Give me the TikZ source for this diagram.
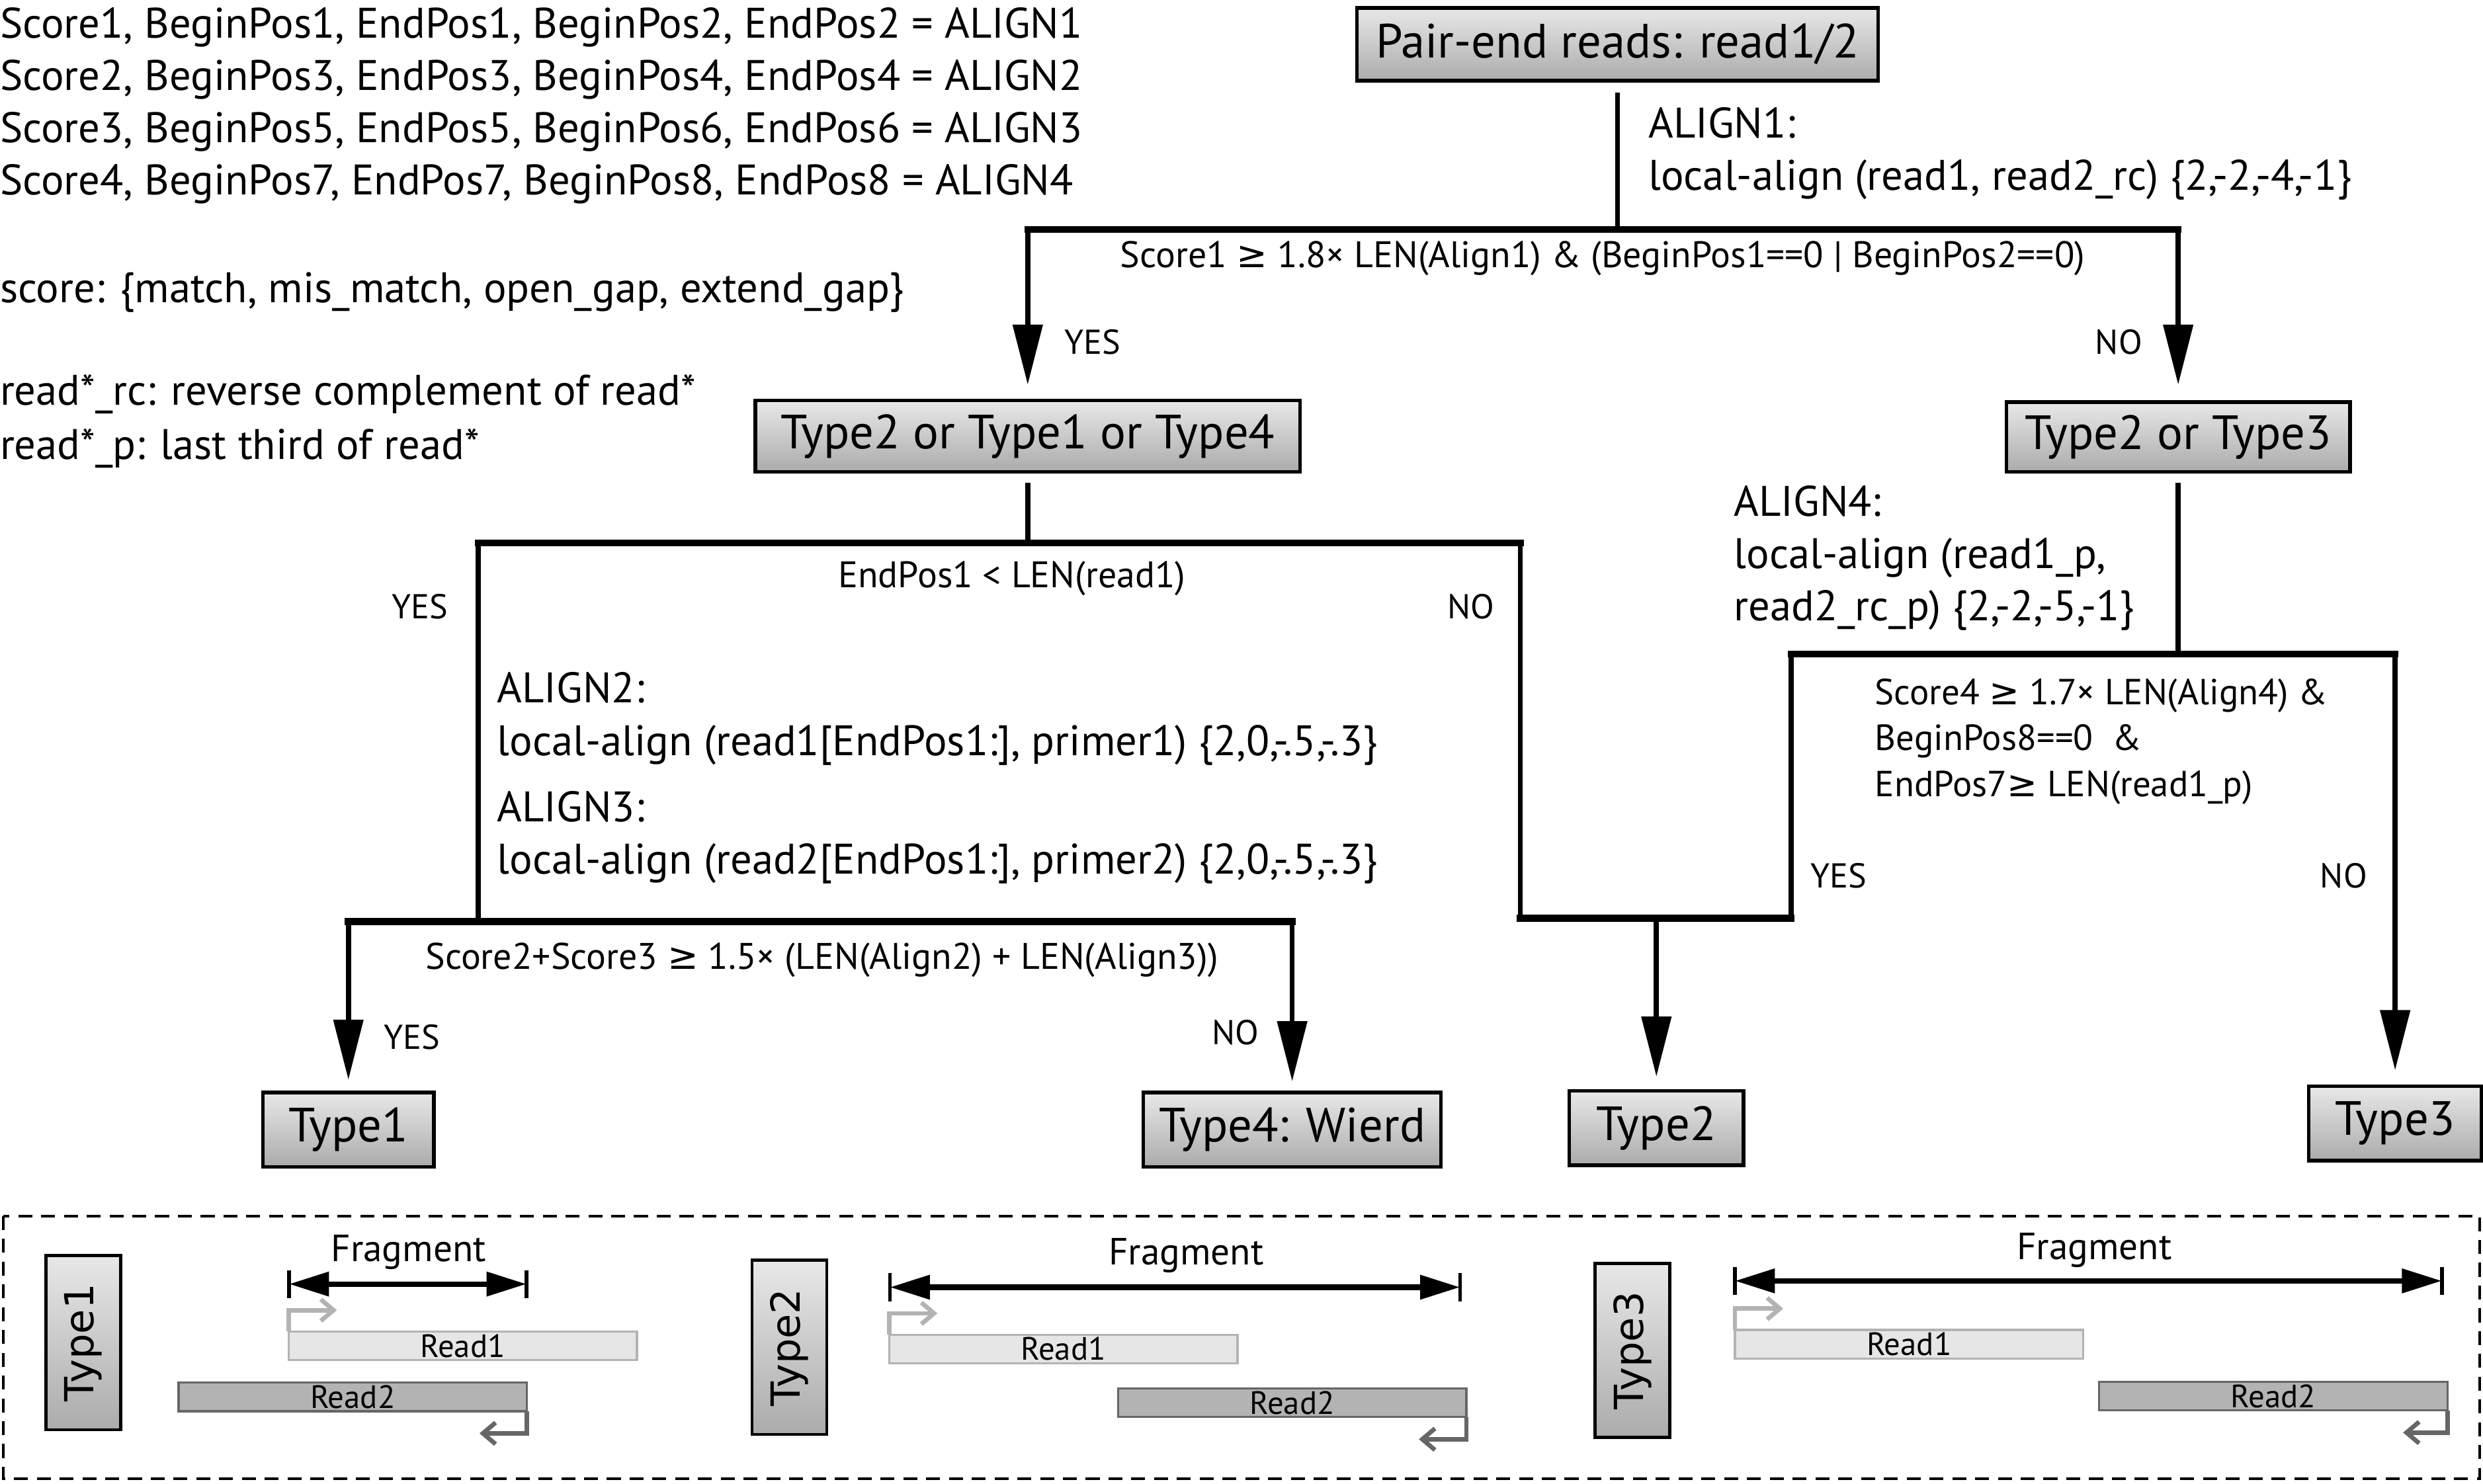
\documentclass[tikz,border=0pt]{standalone}
\usepackage{fontspec}
\setmainfont{PT Sans}
\newfontfamily\symf{DejaVu Sans}
\newfontfamily\rotf{DejaVu Sans}
\usetikzlibrary{arrows.meta}
\definecolor{boxtop}{HTML}{E8E8E8}
\definecolor{boxbot}{HTML}{ABABAB}
\definecolor{readA}{HTML}{E6E6E6}
\definecolor{readAline}{HTML}{B3B3B3}
\definecolor{readB}{HTML}{B3B3B3}
\definecolor{readBline}{HTML}{666666}
\newcommand{\gsym}{{\symf ≥}}
\begin{document}
\begin{tikzpicture}[x=0.25mm, y=-0.25mm,
  every node/.style={inner sep=0pt, outer sep=0pt},
  maintext/.style={font=\fontsize{19.2}{22}\selectfont, anchor=base west},
  condtext/.style={font=\fontsize{16.6}{19}\selectfont, anchor=base},
  condleft/.style={font=\fontsize{16.3}{19}\selectfont, anchor=base west},
  yn/.style={font=\fontsize{15.5}{18}\selectfont},
  tbox/.style={draw=black, line width=0.55mm, top color=boxtop, bottom color=boxbot, font=\fontsize{21.6}{25}\selectfont},
  vln/.style={line width=0.8mm},
  hbar/.style={line width=1.1mm, line cap=rect},
  flow/.style={line width=0.8mm, -{Triangle[length=9.5mm,width=4.6mm]}},
  pbox/.style={draw=black, line width=0.5mm, rotate=90, top color=boxtop, bottom color=boxbot, font=\rotf\fontsize{18}{21}\selectfont, minimum width=27.5mm, minimum height=11.8mm},
  frag/.style={line width=0.85mm, {Triangle[length=6.3mm,width=3.7mm]}-{Triangle[length=6.3mm,width=3.7mm]}},
  fragbar/.style={line width=0.6mm},
  fragtext/.style={font=\fontsize{17}{20}\selectfont},
  readone/.style={draw=readAline, fill=readA, line width=0.35mm, minimum width=55mm, minimum height=4.5mm, font=\fontsize{14.5}{17}\selectfont},
  readtwo/.style={draw=readBline, fill=readB, line width=0.35mm, minimum width=55mm, minimum height=4.5mm, font=\fontsize{14.5}{17}\selectfont},
  fwd/.style={draw=readAline, line width=0.7mm, -{Straight Barb[length=2mm,width=3.4mm]}},
  bwd/.style={draw=readBline, line width=0.7mm, -{Straight Barb[length=2mm,width=3.4mm]}},
  paneldash/.style={line width=0.42mm, dash pattern=on 2.2mm off 1.4mm}
]
\useasboundingbox (0,0) rectangle (1568,937);

% legend text
\node[maintext] (l1) at (0,24) {Score1, BeginPos1, EndPos1, BeginPos2, EndPos2 = ALIGN1};
\node[maintext] (l2) at (0,57) {Score2, BeginPos3, EndPos3, BeginPos4, EndPos4 = ALIGN2};
\node[maintext] (l3) at (0,90) {Score3, BeginPos5, EndPos5, BeginPos6, EndPos6 = ALIGN3};
\node[maintext] (l4) at (0,123) {Score4, BeginPos7, EndPos7, BeginPos8, EndPos8 = ALIGN4};
\node[maintext] (l5) at (0,191) {score: \{match, mis\_match, open\_gap, extend\_gap\}};
\node[maintext] (l6) at (0,256) {read*\_rc: reverse complement of read*};
\node[maintext] (l7) at (0,290) {read*\_p: last third of read*};

% boxes
\node[tbox, minimum width=82.25mm, minimum height=11.5mm] (top) at (1021.5,28) {Pair-end reads: read1/2};
\node[tbox, minimum width=86mm, minimum height=11.25mm] (t214) at (649,275.5) {Type2 or Type1 or Type4};
\node[tbox, minimum width=54.25mm, minimum height=11mm] (t23) at (1375.5,276) {Type2 or Type3};
\node[tbox, minimum width=27mm, minimum height=11.75mm] (ty1) at (220,713.5) {Type1};
\node[tbox, minimum width=47mm, minimum height=11.75mm] (ty4) at (816,713.5) {Type4: Wierd};
\node[tbox, minimum width=27.5mm, minimum height=11.75mm] (ty2) at (1046,712.5) {Type2};
\node[tbox, minimum width=27.25mm, minimum height=11.75mm] (ty3) at (1512.5,709.5) {Type3};

% junction coordinates
\coordinate (j1) at (1021.5,145);
\coordinate (b1L) at (649,145);
\coordinate (b1R) at (1375.5,145);
\coordinate (b2M) at (649,343);
\coordinate (b2L) at (302,343);
\coordinate (b2R) at (960,343);
\coordinate (b3M) at (302,582);
\coordinate (b3L) at (220,582);
\coordinate (b3R) at (816,582);
\coordinate (m1) at (960,580);
\coordinate (m2) at (1131,580);
\coordinate (m3) at (1046,580);
\coordinate (b4M) at (1375.5,413);
\coordinate (b4L) at (1131,413);
\coordinate (b4R) at (1512.5,413);

% connectors
\draw[vln, shorten <=1.9mm] (top.south) -- (j1);
\draw[hbar] (b1L) -- (b1R);
\draw[flow, shorten >=2.5mm] (b1L) -- (t214.north);
\draw[flow, shorten >=2.75mm] (b1R) -- (t23.north);

\draw[vln, shorten <=1.75mm] (t214.south) -- (b2M);
\draw[hbar] (b2L) -- (b2R);
\draw[vln] (b2L) -- (b3M);
\draw[hbar] (b3L) -- (b3R);
\draw[flow, shorten >=2mm] (b3L) -- (ty1.north);
\draw[flow, shorten >=1.75mm] (b3R) -- (ty4.north);

\draw[vln] (b2R) -- (m1);
\draw[hbar] (m1) -- (m2);
\draw[flow, shorten >=2.25mm] (m3) -- (ty2.north);

\draw[vln, shorten <=1.75mm] (t23.south) -- (b4M);
\draw[hbar] (b4L) -- (b4R);
\draw[vln] (b4L) -- (m2);
\draw[flow, shorten >=2.5mm] (b4R) -- (ty3.north);

% flow texts
\node[maintext] (a1a) at (1041,87) {ALIGN1:};
\node[maintext] (a1b) at (1041,120) {local-align (read1, read2\_rc) \{2,-2,-4,-1\}};
\node[condtext] (c1) at (1012,169) {Score1 \gsym{} 1.8× LEN(Align1) \& (BeginPos1==0 | BeginPos2==0)};
\node[yn] (y1) at (690,216) {YES};
\node[yn] (n1) at (1338,216) {NO};

\node[condtext] (c2) at (639,371) {EndPos1 < LEN(read1)};
\node[yn] (y2) at (265,383) {YES};
\node[yn] (n2) at (929,383) {NO};
\node[maintext] (a2a) at (314,444) {ALIGN2:};
\node[maintext] (a2b) at (314,477) {local-align (read1[EndPos1:], primer1) \{2,0,-.5,-.3\}};
\node[maintext] (a3a) at (314,519) {ALIGN3:};
\node[maintext] (a3b) at (314,552) {local-align (read2[EndPos1:], primer2) \{2,0,-.5,-.3\}};

\node[condtext] (c3) at (519,612) {Score2+Score3 \gsym{} 1.5× (LEN(Align2) + LEN(Align3))};
\node[yn] (y3) at (260,655) {YES};
\node[yn] (n3) at (780,652) {NO};

\node[maintext] (a4a) at (1095,326) {ALIGN4:};
\node[maintext] (a4b) at (1095,359) {local-align (read1\_p,};
\node[maintext] (a4c) at (1095,392) {read2\_rc\_p) \{2,-2,-5,-1\}};
\node[condleft] (c4a) at (1184,445) {Score4 \gsym{} 1.7× LEN(Align4) \&};
\node[condleft] (c4b) at (1184,474) {BeginPos8==0~~\&};
\node[condleft] (c4c) at (1184,503) {EndPos7\gsym{} LEN(read1\_p)};
\node[yn] (y4) at (1161,553) {YES};
\node[yn] (n4) at (1480,553) {NO};

% bottom panel
\draw[paneldash] (2,768) rectangle (1566,934);

% panel 1
\node[pbox] (p1) at (52.5,848) {Type1};
\coordinate (f1a) at (182.5,811);
\coordinate (f1b) at (332.5,811);
\draw[frag] (f1a) -- (f1b);
\draw[fragbar] ([yshift=2.2mm]f1a) -- ([yshift=-2.2mm]f1a);
\draw[fragbar] ([yshift=2.2mm]f1b) -- ([yshift=-2.2mm]f1b);
\node[fragtext] (ft1) at (258,791) {Fragment};
\node[readone] (r1a) at (292.25,850) {Read1};
\node[readtwo] (r2a) at (222.8,882.3) {Read2};
\draw[fwd] (r1a.north west) -- ++(0,-13.5) -- ++(30.5,0);
\draw[bwd] (r2a.south east) -- ++(0,14) -- ++(-30,0);

% panel 2
\node[pbox] (p2) at (498.5,851) {Type2};
\coordinate (f2a) at (562,813);
\coordinate (f2b) at (922,813);
\draw[frag] (f2a) -- (f2b);
\draw[fragbar] ([yshift=2.2mm]f2a) -- ([yshift=-2.2mm]f2a);
\draw[fragbar] ([yshift=2.2mm]f2b) -- ([yshift=-2.2mm]f2b);
\node[fragtext] (ft2) at (749,793) {Fragment};
\node[readone] (r1b) at (671.5,852) {Read1};
\node[readtwo] (r2b) at (816,886) {Read2};
\draw[fwd] (r1b.north west) -- ++(0,-13.5) -- ++(30.5,0);
\draw[bwd] (r2b.south east) -- ++(0,14) -- ++(-30,0);

% panel 3
\node[pbox] (p3) at (1031,853) {Type3};
\coordinate (f3a) at (1095.6,809);
\coordinate (f3b) at (1542,809);
\draw[frag] (f3a) -- (f3b);
\draw[fragbar] ([yshift=2.2mm]f3a) -- ([yshift=-2.2mm]f3a);
\draw[fragbar] ([yshift=2.2mm]f3b) -- ([yshift=-2.2mm]f3b);
\node[fragtext] (ft3) at (1322.5,789.5) {Fragment};
\node[readone] (r1c) at (1205.6,849) {Read1};
\node[readtwo] (r2c) at (1435.5,881.8) {Read2};
\draw[fwd] (r1c.north west) -- ++(0,-13.5) -- ++(30.5,0);
\draw[bwd] (r2c.south east) -- ++(0,14) -- ++(-28,0);
\end{tikzpicture}
\end{document}
